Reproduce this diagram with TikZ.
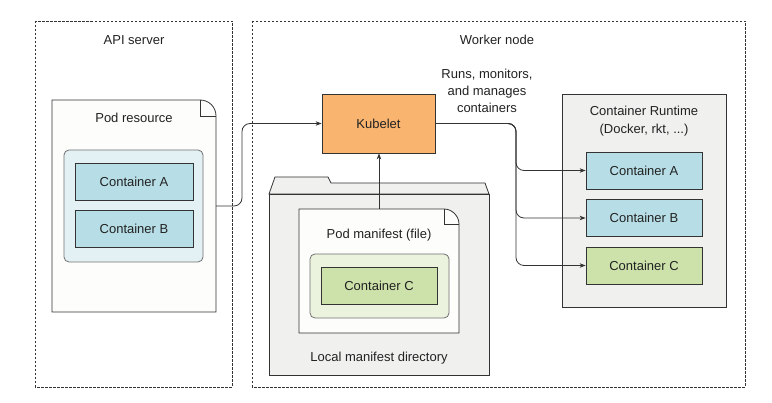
\documentclass[tikz,border=0pt]{standalone}
\usepackage{fontspec}
\setmainfont{Liberation Sans}
\usetikzlibrary{arrows.meta,calc}
\definecolor{cblue}{HTML}{B7DEE6}
\definecolor{cgreen}{HTML}{CDE2AA}
\definecolor{korange}{HTML}{F9B46F}
\definecolor{lblue}{HTML}{E3F1F5}
\definecolor{lgreen}{HTML}{EBF3DE}
\definecolor{lgray}{HTML}{F0F0EF}
\definecolor{docw}{HTML}{FDFDFB}
\definecolor{ink}{HTML}{333333}
\definecolor{txt}{HTML}{222222}
\begin{document}
\begin{tikzpicture}[x=1pt,y=-1pt,
  every node/.style={font=\fontsize{13}{16}\selectfont, text=txt},
  zone/.style={draw=ink, line width=0.7pt, dash pattern=on 2.5pt off 1.5pt},
  cbox/.style={draw=ink, line width=0.8pt, minimum width=118pt, minimum height=37pt, inner sep=0pt},
  doc/.style={draw=ink, line width=0.8pt, fill=docw},
  podin/.style={draw=ink!70, line width=0.8pt, rounded corners=5pt},
  conn/.style={draw=ink, line width=0.8pt, rounded corners=8pt},
  tip/.style={-{Stealth[length=6pt,width=4.5pt]}},
  lbl/.style={inner sep=0pt, align=center}
]
\useasboundingbox (0,0) rectangle (772,403);
% zones
\draw[zone] (35,21) rectangle (232,387);
\draw[zone] (252,21) rectangle (745,387);
\node[lbl] (apilbl) at (134,40) {API server};
\node[lbl] (wnlbl) at (497,40) {Worker node};

% Pod resource document
\node[minimum width=164pt, minimum height=212pt, inner sep=0pt] (podres) at (134,206) {};
\draw[doc] (52,100) -- (200,100) .. controls (209,100) and (216,107) .. (216,116) -- (216,312) -- (52,312) -- cycle;
\draw[ink, line width=0.8pt] (200,100) -- (200,116) -- (216,116);
\node[lbl] (podreslbl) at (134,118) {Pod resource};
\draw[podin, fill=lblue] (64,150) rectangle (203,262);
\node[cbox, fill=cblue] (pA) at (134,181.5) {Container A};
\node[cbox, fill=cblue] (pB) at (134,229) {Container B};

% Kubelet
\node[draw=ink, line width=0.8pt, fill=korange, minimum width=113pt, minimum height=59pt, inner sep=0pt] (kubelet) at (378.5,123.5) {Kubelet};

% Folder
\draw[draw=ink, line width=0.8pt, fill=lgray] (269,194) -- (275,177) -- (328,177) -- (331,183) -- (485,183) -- (489,194) -- cycle;
\draw[draw=ink, line width=0.8pt, fill=lgray] (269,194) rectangle (489,375);
\node[lbl] (dirlbl) at (379,358) {Local manifest directory};

% Pod manifest document
\node[minimum width=160pt, minimum height=124pt, inner sep=0pt] (podman) at (379,271) {};
\draw[doc] (299,209) -- (444,209) .. controls (452,209) and (459,216) .. (459,224) -- (459,333) -- (299,333) -- cycle;
\draw[ink, line width=0.8pt] (444,209) -- (444,224) -- (459,224);
\node[lbl] (podmanlbl) at (379,235) {Pod manifest (file)};
\draw[podin, fill=lgreen] (310,254) rectangle (449,318);
\node[cbox, minimum width=116pt, fill=cgreen] (pC) at (379,285.5) {Container C};

% Container runtime
\draw[draw=ink, line width=0.8pt, fill=lgray] (562,94) rectangle (726,307);
\node[lbl] (rtlbl) at (644,121.5) {Container Runtime\\[2pt](Docker, rkt, ...)};
\node[cbox, minimum width=116pt, fill=cblue] (rA) at (644,170.5) {Container A};
\node[cbox, minimum width=116pt, fill=cblue] (rB) at (644,218) {Container B};
\node[cbox, minimum width=116pt, fill=cgreen] (rC) at (644,265.5) {Container C};

\node[lbl] (runslbl) at (487,91) {Runs, monitors,\\[1pt]and manages\\[1pt]containers};

% connectors
\coordinate (j1) at (242,0);
\coordinate (j2) at (516,0);
\draw[conn, tip] (podres.east) -- (podres.east -| j1) -- (j1 |- kubelet.west) -- (kubelet.west);
\draw[conn, tip] (podman.north) -- (podman.north |- kubelet.south);
\draw[conn, tip] (kubelet.east) -- (kubelet.east -| j2) -- (j2 |- rA.west) -- (rA.west);
\draw[conn, tip] (kubelet.east) -- (kubelet.east -| j2) -- (j2 |- rB.west) -- (rB.west);
\draw[conn, tip] (kubelet.east) -- (kubelet.east -| j2) -- (j2 |- rC.west) -- (rC.west);
\end{tikzpicture}
\end{document}
